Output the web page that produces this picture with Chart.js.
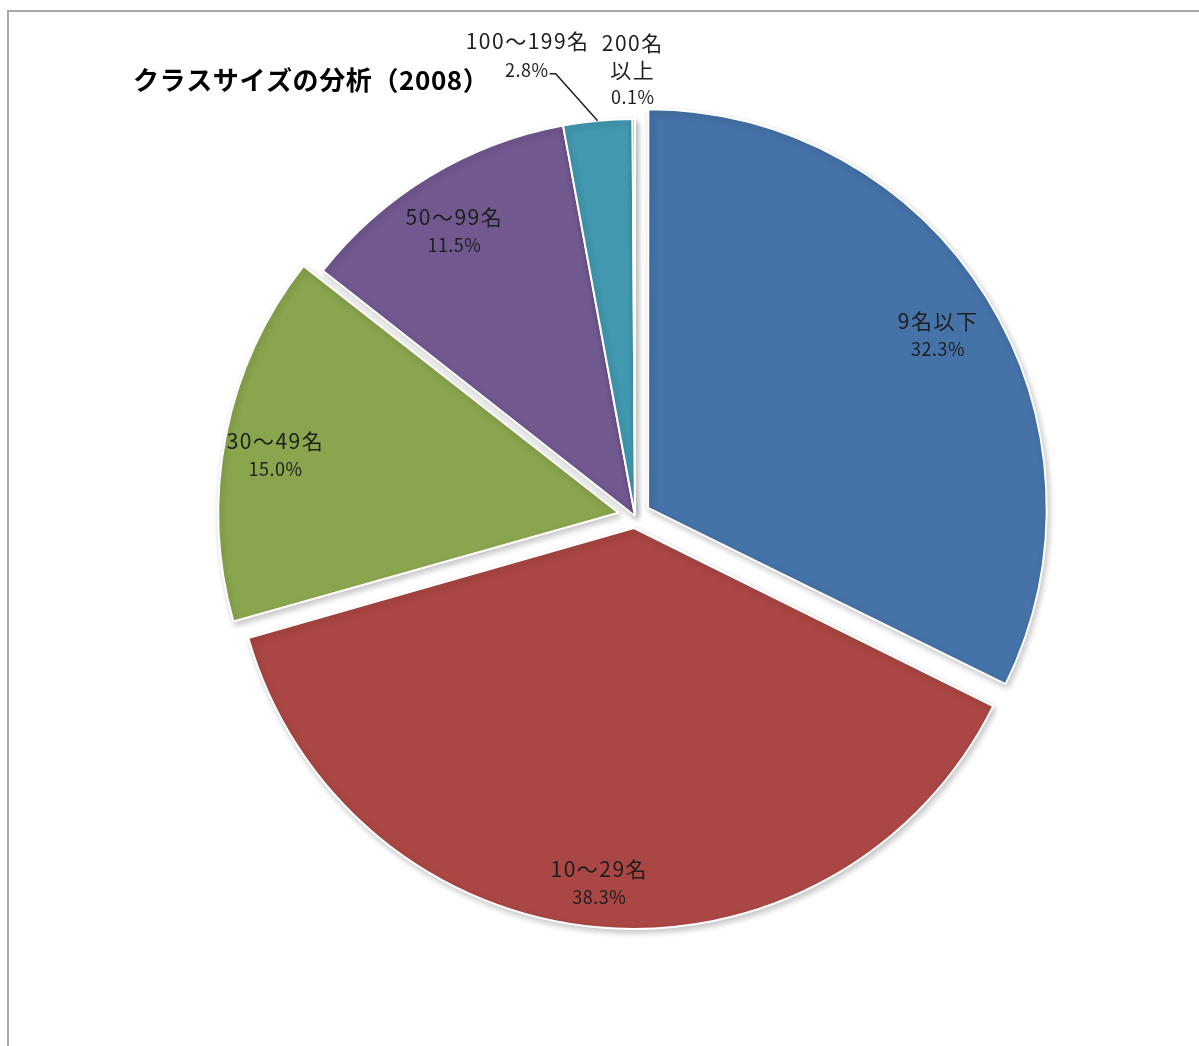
<!DOCTYPE html>
<html lang="ja">
<head>
  <meta charset="UTF-8">
  <title>クラスサイズの分析（2008）</title>
  <script src="https://cdn.jsdelivr.net/npm/chart.js"></script>
  <style>
    body { margin: 0; background: #fff; overflow: hidden; }
    #wrap { position: relative; width: 1199px; height: 1046px; overflow: hidden; }
    #frame { position: absolute; left: 7px; top: 10px; width: 1300px; height: 1200px;
             border: 2px solid #a8a8a8; box-sizing: border-box; }
    canvas { position: absolute; left: 0; top: 0; }
  </style>
</head>
<body>
  <div id="wrap">
    <div id="frame"></div>
    <canvas id="chart" width="1199" height="1046"></canvas>
  </div>
  <script>

const title = 'クラスサイズの分析（2008）';
const categories = ['9名以下', '10〜29名', '30〜49名', '50〜99名', '100〜199名', '200名以上'];
const shares = [32.3, 38.3, 15.0, 11.5, 2.8, 0.1];
const colors = ['#4572A7', '#AA4643', '#89A54E', '#71588F', '#4198AF', '#DB843D'];
// how far each slice is pulled out, in px
const explode = [17, 16, 20, 0, 0, 0];

const total = shares.reduce((a, b) => a + b, 0);
const fontJP = '"Noto Sans CJK JP", "Noto Sans", sans-serif';

// chart.js moves a slice by offset/4 * (1 + fix), so work back from the px we want
function sliceOffset(i) {
  const circ = shares[i] / total * Math.PI * 2;
  const fix = 1 - Math.sin(Math.min(Math.PI, circ));
  return explode[i] / (0.25 * (1 + fix));
}

const labelPlugin = {
  id: 'sliceLabels',
  afterDatasetsDraw(chart) {
    const ctx = chart.ctx;
    const meta = chart.getDatasetMeta(0);
    ctx.save();
    ctx.fillStyle = '#1e1e1e';
    ctx.strokeStyle = '#1e1e1e';
    ctx.textBaseline = 'middle';
    meta.data.forEach((arc, i) => {
      const p = arc.getProps(['x', 'y', 'startAngle', 'endAngle', 'outerRadius', 'circumference']);
      const mid = (p.startAngle + p.endAngle) / 2;
      const fix = 1 - Math.sin(Math.min(Math.PI, p.circumference));
      const shift = (arc.options.offset || 0) / 4 * (1 + fix);
      const cx = p.x + Math.cos(mid) * shift;
      const cy = p.y + Math.sin(mid) * shift;
      const name = categories[i];
      const pct = shares[i].toFixed(1) + '%';

      if (shares[i] >= 5) {
        const r = p.outerRadius * 0.865;
        const lx = cx + Math.cos(mid) * r - 3;
        const ly = cy + Math.sin(mid) * r + 9;
        ctx.textAlign = 'center';
        ctx.font = '21px ' + fontJP;
        ctx.letterSpacing = '1.5px';
        ctx.fillText(name, lx, ly - 14);
        ctx.font = '18px ' + fontJP;
        ctx.letterSpacing = '0.5px';
        ctx.fillText(pct, lx, ly + 14);
        return;
      }

      // small slices: label outside
      const ex = cx + Math.cos(mid) * p.outerRadius;
      const ey = cy + Math.sin(mid) * p.outerRadius;
      if (i === 4) {
        const bx = ex - 42, by = ey - 47;
        ctx.lineWidth = 1.5;
        ctx.beginPath();
        ctx.moveTo(ex, ey);
        ctx.lineTo(bx, by);
        ctx.lineTo(bx - 6, by);
        ctx.stroke();
        ctx.textAlign = 'center';
        ctx.font = '21px ' + fontJP;
        ctx.letterSpacing = '1.5px';
        ctx.fillText(name, bx - 28, by - 33);
        ctx.textAlign = 'right';
        ctx.font = '18px ' + fontJP;
        ctx.letterSpacing = '0.5px';
        ctx.fillText(pct, bx - 7, by - 4);
      } else {
        ctx.textAlign = 'center';
        ctx.font = '21px ' + fontJP;
        ctx.letterSpacing = '1.5px';
        ctx.fillText(name.slice(0, 4), ex - 1, ey - 76);
        ctx.fillText(name.slice(4), ex - 1, ey - 49);
        ctx.font = '18px ' + fontJP;
        ctx.letterSpacing = '0.5px';
        ctx.fillText(pct, ex - 1, ey - 22);
      }
    });

    ctx.textAlign = 'left';
    ctx.font = 'bold 26px ' + fontJP;
    ctx.letterSpacing = '0.6px';
    ctx.fillStyle = '#000';
    ctx.fillText(title, 133, 80);
    ctx.restore();
  }
};

const shadowPlugin = {
  id: 'sliceShadow',
  beforeDatasetsDraw(chart) {
    const ctx = chart.ctx;
    ctx.save();
    ctx.shadowColor = 'rgba(0,0,0,0.22)';
    ctx.shadowBlur = 6;
    ctx.shadowOffsetX = 2;
    ctx.shadowOffsetY = 3;
  },
  afterDatasetsDraw(chart) {
    chart.ctx.restore();
  }
};

new Chart(document.getElementById('chart'), {
  type: 'pie',
  data: {
    labels: categories,
    datasets: [{
      data: shares,
      backgroundColor: colors,
      borderColor: '#ffffff',
      borderWidth: 2,
      offset: c => sliceOffset(c.dataIndex)
    }]
  },
  options: {
    responsive: false,
    animation: false,
    radius: 397,
    layout: { padding: { left: 171, right: 100, top: 60, bottom: 74 } },
    plugins: {
      legend: { display: false },
      tooltip: { enabled: false },
      title: { display: false }
    }
  },
  plugins: [shadowPlugin, labelPlugin]
});

  </script>
</body>
</html>
